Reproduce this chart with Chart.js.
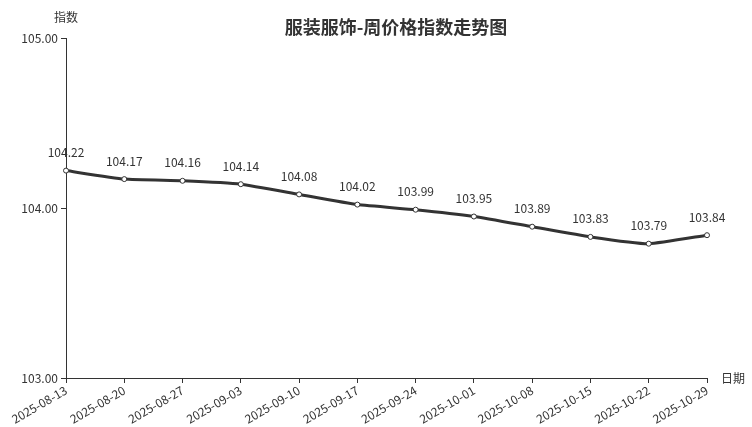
<!DOCTYPE html>
<html>
<head>
<meta charset="utf-8">
<script src="https://cdn.jsdelivr.net/npm/chart.js@4/dist/chart.umd.min.js"></script>
<style>
  html, body { margin: 0; padding: 0; background: #fff; }
  #wrap { width: 752px; height: 427px; position: relative; }
</style>
</head>
<body>
<div id="wrap"><canvas id="chart"></canvas></div>
<script>
const weeks = ['2025-08-13', '2025-08-20', '2025-08-27', '2025-09-03', '2025-09-10', '2025-09-17',
               '2025-09-24', '2025-10-01', '2025-10-08', '2025-10-15', '2025-10-22', '2025-10-29'];
const indexValues = [104.22, 104.17, 104.16, 104.14, 104.08, 104.02, 103.99, 103.95, 103.89, 103.83, 103.79, 103.84];
const yTicks = [103, 104, 105];

const FONT = "'Noto Sans CJK SC', 'Noto Sans', sans-serif";
const INK = '#333333';

// title, axis names and the value labels
const extras = {
    id: 'extras',
    afterDatasetsDraw(chart) {
        const { ctx, chartArea } = chart;
        ctx.save();
        ctx.fillStyle = INK;
        ctx.font = `bold 18px ${FONT}`;
        ctx.textAlign = 'center';
        ctx.textBaseline = 'middle';
        ctx.fillText('服装服饰-周价格指数走势图', 396, 27);

        ctx.font = `12px ${FONT}`;
        ctx.fillText('指数', chartArea.left, 17);
        ctx.textAlign = 'left';
        ctx.fillText('日期', chartArea.right + 14, chartArea.bottom);

        ctx.textAlign = 'center';
        ctx.textBaseline = 'bottom';
        const meta = chart.getDatasetMeta(0);
        meta.data.forEach((pt, i) => {
            ctx.fillText(indexValues[i].toFixed(2), pt.x, pt.y - 12);
        });
        ctx.restore();
    }
};

new Chart(document.getElementById('chart'), {
    type: 'line',
    data: {
        labels: weeks,
        datasets: [{
            data: indexValues,
            borderColor: INK,
            borderWidth: 3,
            tension: 0.15,
            pointRadius: 2.5,
            pointBackgroundColor: '#ffffff',
            pointBorderColor: INK,
            pointBorderWidth: 1,
            fill: false
        }]
    },
    options: {
        responsive: true,
        maintainAspectRatio: false,
        animation: false,
        layout: { padding: { top: 38, right: 45, left: 0, bottom: 0 } },
        plugins: {
            legend: { display: false },
            tooltip: { enabled: false }
        },
        scales: {
            x: {
                offset: false,
                grid: { drawOnChartArea: false, color: INK, tickLength: 5 },
                border: { color: INK, width: 1 },
                ticks: {
                    color: INK,
                    font: { family: FONT, size: 12 },
                    minRotation: 30,
                    maxRotation: 30,
                    autoSkip: false,
                    padding: 0
                },
                afterFit(scale) { scale.height = 49; }
            },
            y: {
                min: 103,
                max: 105,
                afterBuildTicks(scale) { scale.ticks = yTicks.map(v => ({ value: v })); },
                grid: { drawOnChartArea: false, color: INK, tickLength: 5 },
                border: { color: INK, width: 1 },
                ticks: {
                    color: INK,
                    font: { family: FONT, size: 12 },
                    padding: 3,
                    callback: v => v.toFixed(2)
                },
                afterFit(scale) { scale.width = 66; }
            }
        }
    },
    plugins: [extras]
});
</script>
</body>
</html>
